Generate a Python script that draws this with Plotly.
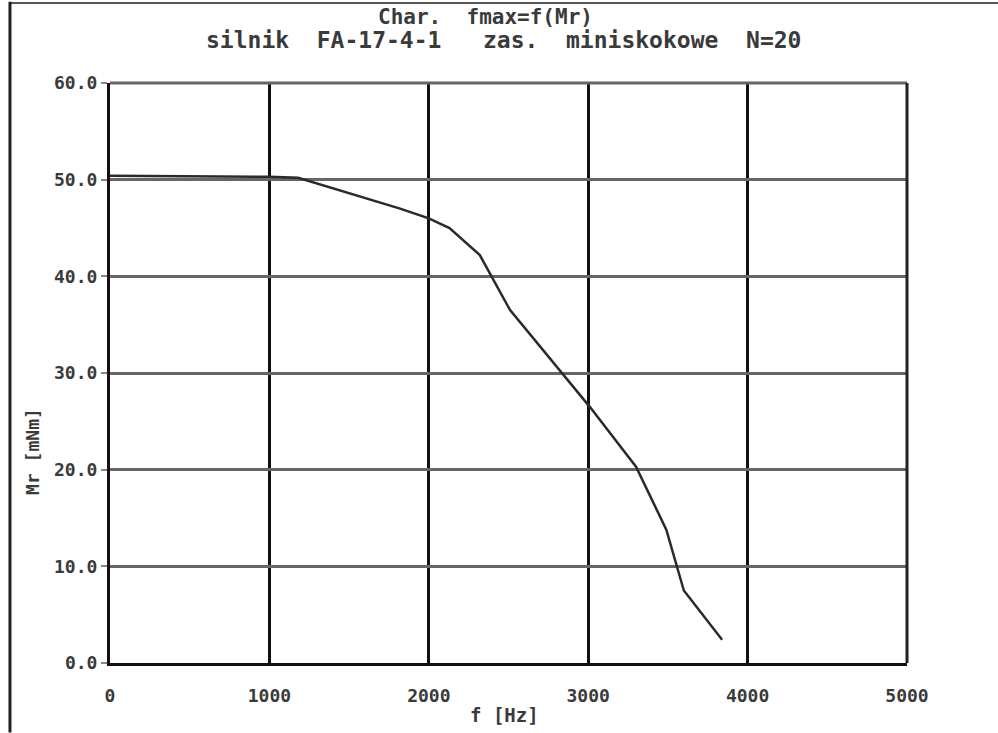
import plotly.graph_objects as go

freq_hz = [0, 1000, 1180, 1820, 2000, 2130, 2320, 2510, 3010, 3300, 3490, 3600, 3840]
mr_mnm = [50.4, 50.3, 50.2, 47.0, 46.0, 45.0, 42.2, 36.5, 26.5, 20.3, 13.8, 7.5, 2.4]

x_ticks = [0, 1000, 2000, 3000, 4000, 5000]
y_ticks = [0, 10, 20, 30, 40, 50, 60]

title_1 = "Char.  fmax=f(Mr)"
title_2 = "silnik  FA-17-4-1   zas.  miniskokowe  N=20"
x_title = "f [Hz]"
y_title = "Mr [mNm]"

FONT = "DejaVu Sans Mono"
TXT = "#3a3a3a"

fig = go.Figure()
fig.add_trace(go.Scatter(
    x=freq_hz, y=mr_mnm, mode="lines",
    line=dict(color="#2a2a2a", width=2.5),
    showlegend=False,
))

fig.update_layout(
    width=998, height=733,
    margin=dict(l=110, r=91, t=83, b=70),
    paper_bgcolor="white", plot_bgcolor="white",
    font=dict(family=FONT, color=TXT, size=16),
)
fig.update_xaxes(
    range=[0, 5000], tickvals=x_ticks, ticktext=[str(v) for v in x_ticks],
    showgrid=True, gridcolor="#111111", gridwidth=3,
    zeroline=False, showline=True, linecolor="#111111", linewidth=3,
    mirror=False, ticks="", ticklabelstandoff=14,
    tickfont=dict(family=FONT, size=18, color=TXT, weight="bold"),
    fixedrange=True,
)
fig.update_yaxes(
    range=[0, 60], tickvals=y_ticks, ticktext=[f"{v:.1f}" for v in y_ticks],
    showgrid=True, gridcolor="#666666", gridwidth=3,
    zeroline=False, showline=True, linecolor="#111111", linewidth=3,
    ticks="outside", ticklen=6, tickwidth=2, tickcolor="#888888",
    tickfont=dict(family=FONT, size=18, color=TXT, weight="bold"),
    fixedrange=True,
)

# top and right plot borders
fig.add_shape(type="line", xref="paper", yref="paper", x0=0, x1=1, y0=1, y1=1,
              line=dict(color="#666666", width=3))
fig.add_shape(type="line", xref="paper", yref="paper", x0=1, x1=1, y0=0, y1=1,
              line=dict(color="#222222", width=3))
# outer page frame
fig.add_shape(type="line", xref="paper", yref="paper", x0=-0.1255, x1=1.12, y0=1.138, y1=1.138,
              line=dict(color="#555555", width=2))
fig.add_shape(type="line", xref="paper", yref="paper", x0=-0.1255, x1=-0.1255, y0=-0.12, y1=1.14,
              line=dict(color="#222222", width=3))

fig.add_annotation(text=title_1, xref="paper", yref="paper", x=0.471, y=1.1138,
                   xanchor="center", yanchor="middle", showarrow=False,
                   font=dict(family=FONT, size=21, color=TXT, weight="bold"))
fig.add_annotation(text=title_2, xref="paper", yref="paper", x=0.494, y=1.074,
                   xanchor="center", yanchor="middle", showarrow=False,
                   font=dict(family=FONT, size=23, color=TXT, weight="bold"))
fig.add_annotation(text=x_title, xref="paper", yref="paper", x=0.4956, y=-0.0897,
                   xanchor="center", yanchor="middle", showarrow=False,
                   font=dict(family=FONT, size=19, color=TXT, weight="bold"))
fig.add_annotation(text=y_title, xref="paper", yref="paper", x=-0.0966, y=0.364,
                   xanchor="center", yanchor="middle", textangle=-90, showarrow=False,
                   font=dict(family=FONT, size=18, color=TXT, weight="bold"))

fig.write_html("out.html")
